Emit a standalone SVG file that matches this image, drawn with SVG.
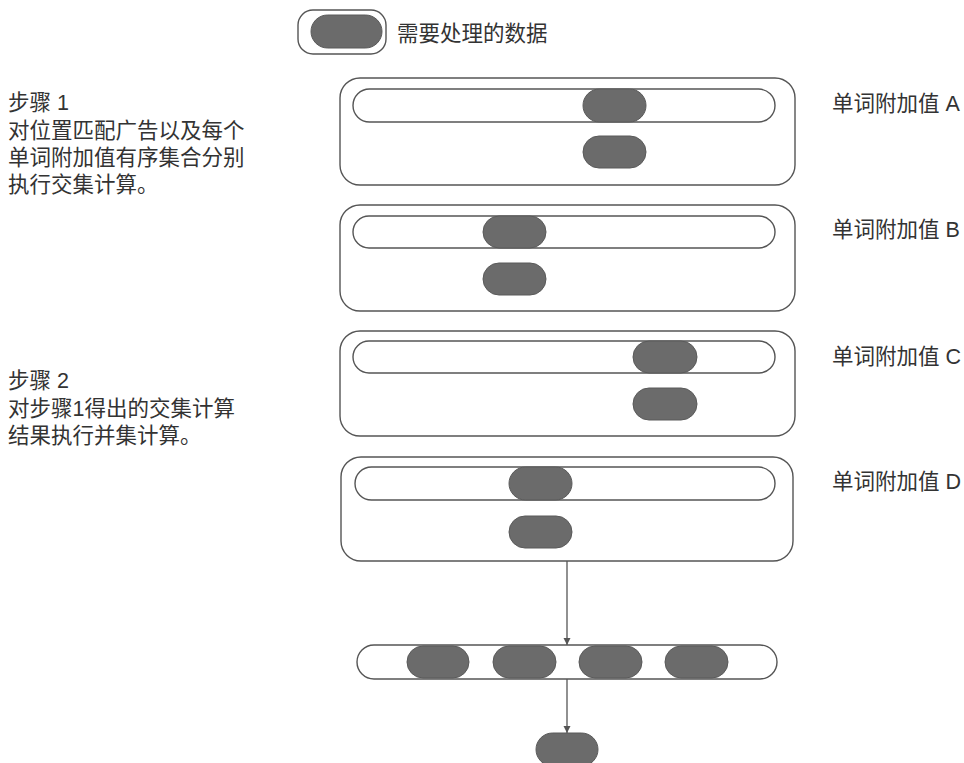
<svg xmlns="http://www.w3.org/2000/svg" width="964" height="763" viewBox="0 0 964 763">
<style>
.bg{fill:#ffffff}
.frame{fill:#ffffff;stroke:#555;stroke-width:1.4}
.track{fill:#ffffff;stroke:#555;stroke-width:1.4}
.blob{fill:#6b6b6b;stroke:#5a5a5a;stroke-width:1}
.txt{font-family:"Liberation Sans","Noto Sans CJK SC",sans-serif;font-size:21.5px;fill:#333}
.conn{stroke:#555;stroke-width:1.3;fill:none}
</style>
<defs>
<marker id="arr" viewBox="0 0 10 10" refX="10" refY="5" markerWidth="7" markerHeight="10" markerUnits="userSpaceOnUse" orient="auto">
<path d="M0,0 L10,5 L0,10 Z" fill="#555"/>
</marker>
</defs>
<rect class="bg" x="0" y="0" width="964" height="763"/>

<g id="legend">
<rect class="frame" x="298" y="10" width="88" height="44" rx="15"/>
<rect class="blob" x="311" y="15" width="71" height="33" rx="16.5"/>
<text class="txt" x="397" y="41">需要处理的数据</text>
</g>

<g id="step1">
<text class="txt" x="8" y="110">步骤 1</text>
<text class="txt" x="8" y="138">对位置匹配广告以及每个</text>
<text class="txt" x="8" y="165">单词附加值有序集合分别</text>
<text class="txt" x="8" y="192">执行交集计算。</text>
</g>

<g id="step2">
<text class="txt" x="8" y="388">步骤 2</text>
<text class="txt" x="8" y="416">对步骤1得出的交集计算</text>
<text class="txt" x="8" y="443">结果执行并集计算。</text>
</g>

<g id="setA">
<rect class="frame" x="340" y="78" width="455" height="107" rx="20"/>
<rect class="track" x="353" y="89" width="422" height="33" rx="16.5"/>
<rect class="blob" x="583" y="89" width="63" height="33" rx="16.5"/>
<rect class="blob" x="583" y="136" width="63" height="32" rx="16"/>
<text class="txt" x="832" y="111">单词附加值 A</text>
</g>

<g id="setB">
<rect class="frame" x="340" y="205" width="455" height="106" rx="20"/>
<rect class="track" x="353" y="216" width="422" height="32" rx="16"/>
<rect class="blob" x="483" y="216" width="63" height="32" rx="16"/>
<rect class="blob" x="483" y="263" width="63" height="32" rx="16"/>
<text class="txt" x="832" y="237">单词附加值 B</text>
</g>

<g id="setC">
<rect class="frame" x="340" y="331" width="455" height="105" rx="20"/>
<rect class="track" x="353" y="341" width="422" height="32" rx="16"/>
<rect class="blob" x="633" y="341" width="64" height="32" rx="16"/>
<rect class="blob" x="633" y="388" width="64" height="32" rx="16"/>
<text class="txt" x="832" y="364">单词附加值 C</text>
</g>

<g id="setD">
<rect class="frame" x="341" y="457" width="452" height="104" rx="20"/>
<rect class="track" x="355" y="467" width="420" height="33" rx="16.5"/>
<rect class="blob" x="509" y="467" width="63" height="33" rx="16.5"/>
<rect class="blob" x="509" y="516" width="63" height="32" rx="16"/>
<text class="txt" x="832" y="489">单词附加值 D</text>
</g>

<g id="union">
<rect class="track" x="357" y="645" width="420" height="34" rx="17"/>
<rect class="blob" x="407" y="646" width="62" height="32" rx="16"/>
<rect class="blob" x="493" y="646" width="63" height="32" rx="16"/>
<rect class="blob" x="579" y="646" width="63" height="32" rx="16"/>
<rect class="blob" x="665" y="646" width="63" height="32" rx="16"/>
</g>

<g id="result">
<rect class="blob" x="536" y="733" width="62" height="33" rx="16.5"/>
</g>

<g id="connectors">
<line class="conn" x1="567" y1="561" x2="567" y2="645" marker-end="url(#arr)"/>
<line class="conn" x1="567" y1="679" x2="567" y2="733" marker-end="url(#arr)"/>
</g>
</svg>
